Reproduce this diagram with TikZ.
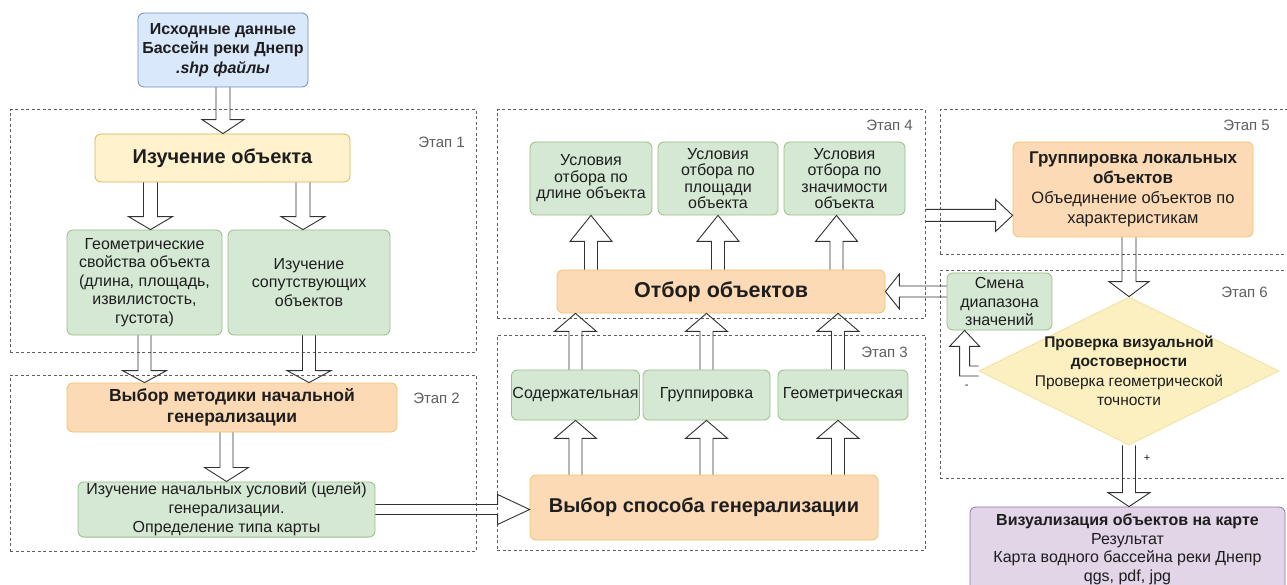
\documentclass[tikz,border=0pt]{standalone}
\usepackage{fontspec}
\setmainfont{Liberation Sans}
\usetikzlibrary{calc,shapes.geometric}
\definecolor{gfill}{RGB}{213,232,212}
\definecolor{gbord}{RGB}{150,190,130}
\definecolor{yfill}{RGB}{255,242,204}
\definecolor{ybord}{RGB}{214,182,86}
\definecolor{ofill}{RGB}{253,218,182}
\definecolor{obord}{RGB}{236,196,110}
\definecolor{bfill}{RGB}{218,232,252}
\definecolor{bbord}{RGB}{108,142,191}
\definecolor{pfill}{RGB}{225,213,231}
\definecolor{pbord}{RGB}{150,115,166}
\definecolor{dfill}{RGB}{252,240,192}
\definecolor{dbord}{RGB}{240,225,160}
\definecolor{txt}{RGB}{30,30,30}
\definecolor{arrc}{RGB}{50,50,50}
\definecolor{stc}{RGB}{95,95,95}
\newcommand\fsz[2]{\fontsize{#1}{#2}\selectfont}
% flexible block arrow: from, to, shaft half width, head half width, head length
\newcommand\flexarr[5]{%
  \path let \p1=(#1), \p2=(#2), \n1={atan2(\y2-\y1,\x2-\x1)}, \n2={veclen(\x2-\x1,\y2-\y1)} in
    \pgfextra{\xdef\faA{\n1}\xdef\faL{\n2}\xdef\faX{\x1}\xdef\faY{\y1}};
  \draw[flexline, shift={(\faX,\faY)}, rotate=\faA]
    (0pt,-#3pt) -- ({\faL-#5pt},-#3pt) -- ({\faL-#5pt},-#4pt) -- (\faL,0pt)
    -- ({\faL-#5pt},#4pt) -- ({\faL-#5pt},#3pt) -- (0pt,#3pt);
}
\begin{document}
\begin{tikzpicture}[x=1pt,y=-1pt,
  stage/.style={draw=stc, line width=1pt, dash pattern=on 3pt off 2.5pt, inner sep=0pt},
  stagelbl/.style={inner sep=0pt, text=stc, font=\fsz{15}{17}},
  box/.style={align=center, inner sep=1pt, rounded corners=6pt, line width=0.8pt, text=txt, font=\fsz{16}{18.5}},
  greenbox/.style={box, draw=gbord, fill=gfill},
  yellowbox/.style={box, draw=ybord, fill=yfill},
  orangebox/.style={box, draw=obord, fill=ofill},
  bluebox/.style={box, draw=bbord, fill=bfill},
  purplebox/.style={box, draw=pbord, fill=pfill},
  flexline/.style={draw=arrc, line width=0.9pt, line join=miter},
  smalllbl/.style={inner sep=0pt, text=txt, font=\fsz{11}{12}}]
\fill[white] (0,0) rectangle (1287,585);
\useasboundingbox (0,0) rectangle (1287,585);

% stage frames
\node[stage, minimum width=466pt, minimum height=242pt] (st1) at (243,231) {};
\node[stage, minimum width=466pt, minimum height=176pt] (st2) at (243,463) {};
\node[stage, minimum width=428pt, minimum height=208pt] (st4) at (711,214) {};
\node[stage, minimum width=428pt, minimum height=215pt] (st3) at (711,442.5) {};
\node[stage, minimum width=360pt, minimum height=145pt] (st5) at (1120,182.5) {};
\node[stage, minimum width=360pt, minimum height=207pt] (st6) at (1120,374.5) {};

\node[stagelbl, anchor=east] (l1) at (465,142) {Этап 1};
\node[stagelbl, anchor=east] (l2) at (460,398) {Этап 2};
\node[stagelbl, anchor=east] (l4) at (913,125) {Этап 4};
\node[stagelbl, anchor=east] (l3) at (908,352) {Этап 3};
\node[stagelbl, anchor=east] (l5) at (1270,125) {Этап 5};
\node[stagelbl, anchor=east] (l6) at (1268,292) {Этап 6};

% nodes
\node[bluebox, minimum width=170pt, minimum height=74pt, font=\fsz{16}{19.5}\bfseries] (src) at (223,50)
  {Исходные данные\\Бассейн реки Днепр\\{\itshape .shp файлы}};
\node[yellowbox, minimum width=255pt, minimum height=48pt, font=\fsz{20}{23}\bfseries] (izuch) at (222.5,158) {Изучение объекта};
\node[greenbox, minimum width=155pt, minimum height=105pt, font=\fsz{16}{18.5}] (geom) at (144.5,282.5)
  {Геометрические\\свойства объекта\\(длина, площадь,\\извилистость,\\густота)};
\node[greenbox, minimum width=162pt, minimum height=105pt, font=\fsz{16}{18.5}] (sop) at (309,282.5)
  {Изучение\\сопутствующих\\объектов};
\node[orangebox, minimum width=330pt, minimum height=49pt, font=\fsz{17.5}{21}\bfseries] (metod) at (232,407.5)
  {Выбор методики начальной\\генерализации};
\node[greenbox, minimum width=297pt, minimum height=55pt, font=\fsz{16}{19}] (nach) at (226.5,509.5)
  {Изучение начальных условий (целей)\\генерализации.\\Определение типа карты};

\node[greenbox, minimum width=122pt, minimum height=73pt, font=\fsz{16}{16.5}] (cond1) at (591,178.5)
  {Условия\\отбора по\\длине объекта};
\node[greenbox, minimum width=120pt, minimum height=73pt, font=\fsz{16}{16.5}] (cond2) at (718,178.5)
  {Условия\\отбора по\\площади\\объекта};
\node[greenbox, minimum width=121pt, minimum height=73pt, font=\fsz{16}{16.5}] (cond3) at (844.5,178.5)
  {Условия\\отбора по\\значимости\\объекта};
\node[orangebox, minimum width=328pt, minimum height=43pt, font=\fsz{21.5}{24}\bfseries] (otbor) at (721,291.5) {Отбор объектов};

\node[greenbox, minimum width=127pt, minimum height=50pt] (sod) at (575.5,395) {Содержательная};
\node[greenbox, minimum width=127pt, minimum height=50pt] (grp3) at (706.5,395) {Группировка};
\node[greenbox, minimum width=130pt, minimum height=50pt] (geo3) at (843,395) {Геометрическая};
\node[orangebox, minimum width=348pt, minimum height=65pt, font=\fsz{20}{23}\bfseries] (vybsp) at (704,507.5) {Выбор способа генерализации};

\node[orangebox, minimum width=240pt, minimum height=95pt, font=\fsz{16.5}{20}] (grp) at (1133,189.5)
  {{\bfseries\fsz{17}{20}Группировка локальных}\\{\bfseries\fsz{17}{20}объектов}\\Объединение объектов по\\характеристикам};
\node[greenbox, minimum width=105pt, minimum height=57pt, font=\fsz{16}{18.5}] (smena) at (999.5,301.5)
  {Смена\\диапазона\\значений};
\node[diamond, draw=dbord, fill=dfill, line width=0.8pt, inner sep=0pt, minimum width=300pt, minimum height=148pt] (dia) at (1129,371) {};
\node[align=center, inner sep=0pt, text=txt, font=\fsz{15.5}{19.5}] (diatext) at (dia.center)
  {{\bfseries Проверка визуальной}\\{\bfseries достоверности}\\Проверка геометрической\\точности};
\node[purplebox, minimum width=315pt, minimum height=85pt, font=\fsz{16}{18.5}] (vis) at (1127.5,549.5)
  {{\bfseries Визуализация объектов на карте}\\Результат\\Карта водного бассейна реки Днепр\\qgs, pdf, jpg};

% arrows
\flexarr{src.south}{src.south |- izuch.north}{7}{21}{14}
\flexarr{$(geom.north |- izuch.south)+(6,0)$}{$(geom.north)+(6,0)$}{7}{22}{13}
\flexarr{$(sop.north |- izuch.south)+(-6,0)$}{$(sop.north)+(-6,0)$}{7}{22}{13}
\flexarr{geom.south}{geom.south |- metod.north}{6.5}{22}{12}
\flexarr{sop.south}{sop.south |- metod.north}{6.5}{22}{12}
\flexarr{nach.north |- metod.south}{nach.north}{6.5}{22}{14}
\flexarr{nach.east}{nach.east -| vybsp.west}{5}{15}{32}

\flexarr{sod.south |- vybsp.north}{sod.south}{6.5}{21}{18}
\flexarr{grp3.south |- vybsp.north}{grp3.south}{6.5}{21}{18}
\flexarr{$(geo3.south |- vybsp.north)+(-5,0)$}{$(geo3.south)+(-5,0)$}{6.5}{21}{18}
\flexarr{sod.north}{sod.north |- otbor.south}{6.5}{21}{18}
\flexarr{grp3.north}{grp3.north |- otbor.south}{6.5}{21}{18}
\flexarr{$(geo3.north)+(-5,0)$}{$(geo3.north |- otbor.south)+(-5,0)$}{6.5}{21}{18}

\flexarr{cond1.south |- otbor.north}{cond1.south}{6.5}{21}{26}
\flexarr{cond2.south |- otbor.north}{cond2.south}{6.5}{21}{26}
\flexarr{$(cond3.south |- otbor.north)+(-8,0)$}{$(cond3.south)+(-8,0)$}{6.5}{21}{26}

\flexarr{st4.east |- cond3.south}{grp.west |- cond3.south}{6}{16}{17}
\flexarr{dia.north |- grp.south}{dia.north}{7}{20}{15}
\flexarr{smena.west |- otbor.east}{otbor.east}{5.5}{17.5}{14}
\flexarr{dia.south}{dia.south |- vis.north}{6.5}{21}{14}

\draw[flexline] let \p1=(dia.west), \p2=($(smena.south west)!0.17!(smena.south east)$) in
  (\x1,\y1+5pt) -- (\x2+5pt,\y1+5pt) -- (\x2+5pt,\y2-16pt) -- (\x2+15pt,\y2-16pt) -- (\x2,\y2)
  -- (\x2-15pt,\y2-16pt) -- (\x2-5pt,\y2-16pt) -- (\x2-5pt,\y1-5pt) -- (\x1,\y1-5pt);

\node[smalllbl] (minus) at ($(dia.west)+(-12,16)$) {-};
\node[smalllbl] (plus) at ($(dia.south)+(18,13)$) {+};
\end{tikzpicture}
\end{document}
